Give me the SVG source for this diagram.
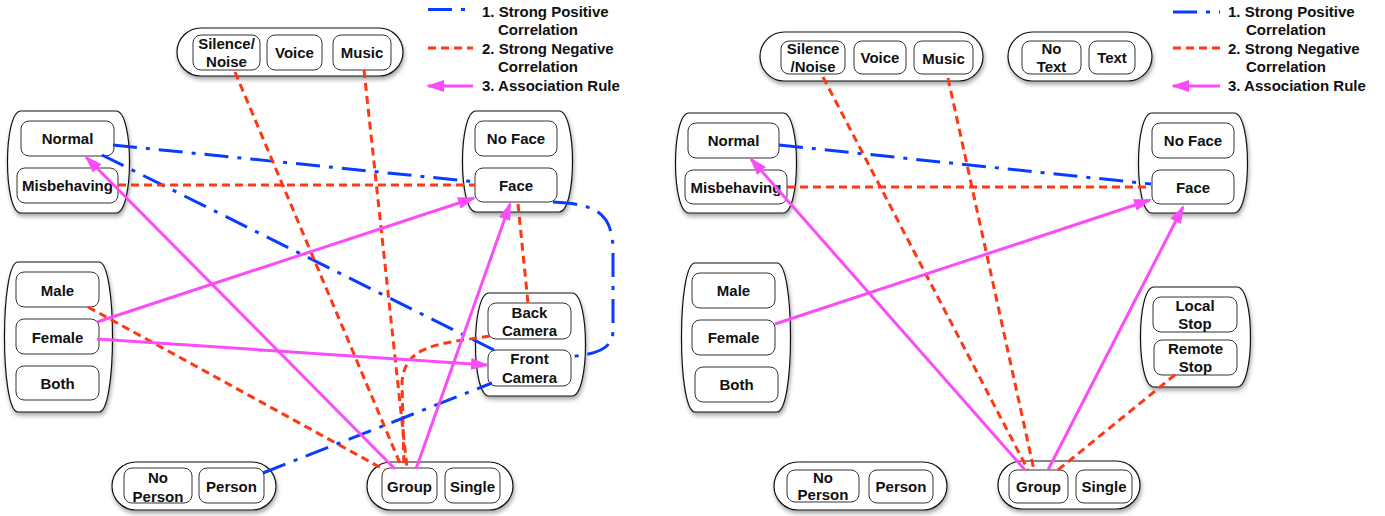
<svg xmlns="http://www.w3.org/2000/svg" width="1385" height="516" viewBox="0 0 1385 516">
<style>
.c{fill:#fff;stroke:#111;stroke-width:1.2;filter:url(#sh)}
.b{fill:#fff;stroke:#333;stroke-width:1}
text{font-family:"Liberation Sans",Arial,sans-serif;font-weight:bold;font-size:15px;fill:#111}
.t{text-anchor:middle}
.pos{fill:none;stroke:#0a3cff;stroke-width:3;stroke-dasharray:24 9 4 9}
.neg{fill:none;stroke:#ff3814;stroke-width:3;stroke-dasharray:8 5}
.ar{fill:none;stroke:#fa4cf8;stroke-width:3;marker-end:url(#ah)}
</style>
<defs>
<filter id="sh" x="-10%" y="-10%" width="125%" height="130%"><feDropShadow dx="1" dy="3" stdDeviation="2" flood-color="#000" flood-opacity="0.35"/></filter>
<marker id="ah" viewBox="0 0 18 12" refX="16" refY="6" markerWidth="18" markerHeight="12" markerUnits="userSpaceOnUse" orient="auto"><path d="M0,0 L18,6 L0,12 z" fill="#fa4cf8"/></marker>
</defs>

<!-- LEFT PANEL -->
<g id="L-audio">
<rect class="c" x="177" y="28" width="226" height="48" rx="24"/>
<rect class="b" x="193" y="35" width="67" height="35" rx="8"/>
<text class="t" x="226.5" y="49">Silence/</text><text class="t" x="226.5" y="67">Noise</text>
<rect class="b" x="267" y="35" width="55" height="35" rx="8"/>
<text class="t" x="294.5" y="58">Voice</text>
<rect class="b" x="333" y="35" width="58" height="35" rx="8"/>
<text class="t" x="362" y="58">Music</text>
</g>
<g id="L-behaviour">
<path class="c" d="M21,111 H116 C134,111 134,213 116,213 H21 C3,213 3,111 21,111 Z"/>
<rect class="b" x="21" y="121" width="93" height="35" rx="8"/>
<text class="t" x="67.5" y="144">Normal</text>
<rect class="b" x="17" y="168" width="101" height="35" rx="8"/>
<text class="t" x="67.5" y="191">Misbehaving</text>
</g>
<g id="L-face">
<path class="c" d="M476,111 H559 C577,111 577,212 559,212 H476 C458,212 458,111 476,111 Z"/>
<rect class="b" x="475" y="121" width="82" height="35" rx="8"/>
<text class="t" x="516" y="144">No Face</text>
<rect class="b" x="475" y="168" width="82" height="34" rx="8"/>
<text class="t" x="516" y="190.5">Face</text>
</g>
<g id="L-gender">
<path class="c" d="M18,262 H99 C117,262 117,412 99,412 H18 C0,412 0,262 18,262 Z"/>
<rect class="b" x="16" y="272" width="83" height="35" rx="8"/>
<text class="t" x="57.5" y="295.5">Male</text>
<rect class="b" x="16" y="319" width="83" height="35" rx="8"/>
<text class="t" x="57.5" y="342.5">Female</text>
<rect class="b" x="16" y="366" width="83" height="34" rx="8"/>
<text class="t" x="57.5" y="388.5">Both</text>
</g>
<g id="L-camera">
<path class="c" d="M489,293 H572 C590,293 590,396 572,396 H489 C471,396 471,293 489,293 Z"/>
<rect class="b" x="488" y="303" width="83" height="36" rx="8"/>
<text class="t" x="529.5" y="317.5">Back</text><text class="t" x="529.5" y="336">Camera</text>
<rect class="b" x="488" y="350" width="83" height="36" rx="8"/>
<text class="t" x="529.5" y="364">Front</text><text class="t" x="529.5" y="382.5">Camera</text>
</g>
<g id="L-person">
<rect class="c" x="112" y="462" width="164" height="48" rx="24"/>
<rect class="b" x="124" y="468" width="68" height="35" rx="8"/>
<text class="t" x="158" y="482.5">No</text><text class="t" x="158" y="501.5">Person</text>
<rect class="b" x="199" y="468" width="65" height="35" rx="8"/>
<text class="t" x="231.5" y="492">Person</text>
</g>
<g id="L-group">
<rect class="c" x="367" y="462" width="146" height="48" rx="24"/>
<rect class="b" x="382" y="468" width="55" height="35" rx="8"/>
<text class="t" x="409.5" y="492">Group</text>
<rect class="b" x="445" y="468" width="55" height="35" rx="8"/>
<text class="t" x="472.5" y="492">Single</text>
</g>
<g id="L-legend">
<line class="pos" x1="428" y1="9.5" x2="473" y2="9.5"/>
<line class="neg" x1="428" y1="48" x2="473" y2="48"/>
<line class="ar" x1="473" y1="86" x2="428" y2="86"/>
<text x="482" y="17">1. Strong Positive</text>
<text x="498" y="35">Correlation</text>
<text x="482" y="54">2. Strong Negative</text>
<text x="498" y="72">Correlation</text>
<text x="482" y="91">3. Association Rule</text>
</g>
<g id="L-connectors">
<line class="pos" x1="113" y1="145" x2="477" y2="182"/>
<line class="pos" x1="102" y1="155" x2="494" y2="350"/>
<line class="neg" x1="118" y1="185" x2="475" y2="185"/>
<line class="neg" x1="235" y1="72" x2="402" y2="468"/>
<line class="neg" x1="364" y1="70" x2="407" y2="468"/>
<line class="neg" x1="518" y1="204" x2="528" y2="303"/>
<path class="pos" d="M553,202 C598,204 613,214 613,252 L613,330 C613,352 592,354 568,357"/>
<path class="neg" d="M490,336 C440,344 405,344 402,382 L404,468"/>
<line class="neg" x1="88" y1="307" x2="385" y2="470"/>
<line class="pos" x1="263" y1="473" x2="492" y2="383"/>
<line class="ar" x1="97" y1="339" x2="487" y2="365"/>
<line class="ar" x1="97" y1="322" x2="474" y2="198"/>
<line class="ar" x1="395" y1="469" x2="86" y2="157"/>
<line class="ar" x1="416" y1="469" x2="510" y2="204"/>
</g>

<!-- RIGHT PANEL -->
<g id="R-audio">
<rect class="c" x="760" y="32" width="223" height="49" rx="24.5"/>
<rect class="b" x="781" y="41" width="64" height="33" rx="8"/>
<text class="t" x="813" y="54">Silence</text><text class="t" x="813" y="72">/Noise</text>
<rect class="b" x="854" y="41" width="52" height="33" rx="8"/>
<text class="t" x="880" y="63">Voice</text>
<rect class="b" x="914" y="41" width="59" height="33" rx="8"/>
<text class="t" x="943.5" y="63.5">Music</text>
</g>
<g id="R-text">
<rect class="c" x="1008" y="32" width="144" height="49" rx="24.5"/>
<rect class="b" x="1022" y="41" width="59" height="33" rx="8"/>
<text class="t" x="1051.5" y="54">No</text><text class="t" x="1051.5" y="72">Text</text>
<rect class="b" x="1089" y="41" width="46" height="33" rx="8"/>
<text class="t" x="1112" y="63">Text</text>
</g>
<g id="R-behaviour">
<path class="c" d="M689,113 H783 C801,113 801,213 783,213 H689 C671,213 671,113 689,113 Z"/>
<rect class="b" x="688" y="123" width="91" height="35" rx="8"/>
<text class="t" x="733.5" y="146">Normal</text>
<rect class="b" x="685" y="170" width="102" height="34" rx="8"/>
<text class="t" x="736" y="193">Misbehaving</text>
</g>
<g id="R-face">
<path class="c" d="M1152,113 H1234 C1252,113 1252,213 1234,213 H1152 C1134,213 1134,113 1152,113 Z"/>
<rect class="b" x="1152" y="123" width="82" height="35" rx="8"/>
<text class="t" x="1193" y="146">No Face</text>
<rect class="b" x="1152" y="170" width="82" height="34" rx="8"/>
<text class="t" x="1193" y="193">Face</text>
</g>
<g id="R-gender">
<path class="c" d="M695,263 H777 C795,263 795,412 777,412 H695 C677,412 677,263 695,263 Z"/>
<rect class="b" x="692" y="273" width="83" height="35" rx="8"/>
<text class="t" x="733.5" y="296">Male</text>
<rect class="b" x="692" y="320" width="83" height="35" rx="8"/>
<text class="t" x="733.5" y="343">Female</text>
<rect class="b" x="695" y="367" width="83" height="35" rx="8"/>
<text class="t" x="736.5" y="389.5">Both</text>
</g>
<g id="R-stop">
<path class="c" d="M1154,287 H1237 C1255,287 1255,387 1237,387 H1154 C1136,387 1136,287 1154,287 Z"/>
<rect class="b" x="1153" y="297" width="84" height="35" rx="8"/>
<text class="t" x="1195" y="311">Local</text><text class="t" x="1195" y="329">Stop</text>
<rect class="b" x="1154" y="340" width="83" height="35" rx="8"/>
<text class="t" x="1195.5" y="354">Remote</text><text class="t" x="1195.5" y="372">Stop</text>
</g>
<g id="R-person">
<rect class="c" x="774" y="462" width="173" height="48" rx="24"/>
<rect class="b" x="787" y="470" width="72" height="32" rx="8"/>
<text class="t" x="823" y="482.5">No</text><text class="t" x="823" y="500">Person</text>
<rect class="b" x="869" y="470" width="64" height="33" rx="8"/>
<text class="t" x="901" y="492">Person</text>
</g>
<g id="R-group">
<rect class="c" x="998" y="461" width="142" height="48" rx="24"/>
<rect class="b" x="1009" y="470" width="59" height="33" rx="8"/>
<text class="t" x="1038.5" y="492">Group</text>
<rect class="b" x="1076" y="470" width="56" height="33" rx="8"/>
<text class="t" x="1104" y="492">Single</text>
</g>
<g id="R-legend">
<line class="pos" x1="1173" y1="12" x2="1220" y2="12"/>
<line class="neg" x1="1173" y1="48" x2="1220" y2="48"/>
<line class="ar" x1="1220" y1="86" x2="1173" y2="86"/>
<text x="1228" y="17">1. Strong Positive</text>
<text x="1246" y="35">Correlation</text>
<text x="1228" y="54">2. Strong Negative</text>
<text x="1246" y="72">Correlation</text>
<text x="1228" y="91">3. Association Rule</text>
</g>
<g id="R-connectors">
<line class="pos" x1="779" y1="145" x2="1151" y2="184"/>
<line class="neg" x1="787" y1="187" x2="1152" y2="187"/>
<line class="neg" x1="823" y1="77" x2="1028" y2="470"/>
<line class="neg" x1="948" y1="78" x2="1034" y2="470"/>
<line class="neg" x1="1058" y1="470" x2="1176" y2="374"/>
<line class="ar" x1="1025" y1="470" x2="751" y2="159"/>
<line class="ar" x1="775" y1="324" x2="1150" y2="200"/>
<line class="ar" x1="1048" y1="470" x2="1183" y2="207"/>
</g>
</svg>
